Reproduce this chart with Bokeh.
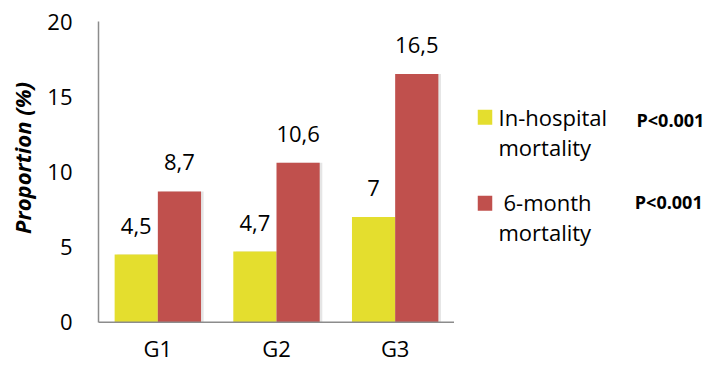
from bokeh.plotting import figure
from bokeh.models import FactorRange, Range1d, ColumnDataSource, Span
from bokeh.layouts import row
from bokeh.transform import dodge
from bokeh.embed import file_html
from bokeh.resources import INLINE
from bokeh.core.properties import value
import math

# ---- data ----
groups = ["G1", "G2", "G3"]
in_hospital = [4.5, 4.7, 7.0]
six_month = [8.7, 10.6, 16.5]
in_hospital_labels = ["4,5", "4,7", "7"]
six_month_labels = ["8,7", "10,6", "16,5"]
series_names = [["In-hospital", "mortality"], ["6-month", "mortality"]]
p_values = ["P<0.001", "P<0.001"]
y_ticks = [0, 5, 10, 15, 20]
y_title = "Proportion (%)"

YELLOW = "#E4DE2E"
RED = "#C0504D"
FONT = "Open Sans"
TOP = 21  # common top border so that all frames line up


def side_panel(width):
    f = figure(x_range=Range1d(0, width), y_range=Range1d(365, TOP), width=width, height=365,
               output_backend="svg", toolbar_location=None,
               min_border_left=0, min_border_right=0, min_border_top=TOP, min_border_bottom=0,
               x_axis_type=None, y_axis_type=None)
    f.xgrid.visible = False
    f.ygrid.visible = False
    f.outline_line_color = None
    return f


src = ColumnDataSource(dict(g=groups, a=in_hospital, b=six_month,
                            al=in_hospital_labels, bl=six_month_labels,
                            zero=[0] * len(groups)))

# ---- y-axis title panel ----
T = side_panel(40)
T.text(x=[21.5], y=[157.5], text=[y_title], angle=math.pi / 2,
       text_font=value(FONT), text_font_size="22px", text_font_style="bold italic",
       text_align="center", text_baseline="alphabetic", text_color="#000000")

# ---- main chart ----
p = figure(x_range=FactorRange(factors=groups, range_padding=0),
           y_range=Range1d(-2.88, 20),
           width=414, height=365, output_backend="svg", toolbar_location=None,
           min_border_left=58, min_border_right=0, min_border_top=TOP, min_border_bottom=0)

W = 0.364
OFF = 0.182
sh = 0.022
# soft shadows
p.vbar(x=dodge("g", -OFF + sh, range=p.x_range), top="a", width=W, source=src,
       fill_color="#000000", fill_alpha=0.10, line_color=None)
p.vbar(x=dodge("g", OFF + sh, range=p.x_range), top="b", width=W, source=src,
       fill_color="#000000", fill_alpha=0.10, line_color=None)
p.vbar(x=dodge("g", -OFF, range=p.x_range), top="a", width=W, source=src,
       fill_color=YELLOW, line_color=None)
p.vbar(x=dodge("g", OFF, range=p.x_range), top="b", width=W, source=src,
       fill_color=RED, line_color=None)

p.text(x=dodge("g", -OFF, range=p.x_range), y="a", text="al", source=src,
       text_font=value(FONT), text_font_size="22px", text_align="center",
       text_baseline="alphabetic", y_offset=-29, text_color="#000000")
p.text(x=dodge("g", OFF, range=p.x_range), y="b", text="bl", source=src,
       text_font=value(FONT), text_font_size="22px", text_align="center",
       text_baseline="alphabetic", y_offset=-29, text_color="#000000")

# category labels under the baseline
p.text(x="g", y="zero", text="g", source=src,
       text_font=value(FONT), text_font_size="22px", text_align="center",
       text_baseline="alphabetic", y_offset=26, text_color="#000000")

# baseline (x axis line)
p.add_layout(Span(location=0, dimension="width", line_color="#8C8C8C", line_width=1.5))

p.xgrid.visible = False
p.ygrid.visible = False
p.xaxis.visible = False
p.outline_line_color = None
p.background_fill_color = "white"
p.border_fill_color = "white"

ya = p.yaxis[0]
ya.ticker = y_ticks
ya.bounds = (0, 20)
ya.major_tick_line_color = None
ya.minor_tick_line_color = None
ya.major_tick_out = 0
ya.major_tick_in = 0
ya.axis_line_color = "#8C8C8C"
ya.axis_line_width = 1.5
ya.major_label_text_font = FONT
ya.major_label_text_font_size = "22px"
ya.major_label_text_color = "#000000"
ya.major_label_standoff = 26

# ---- legend panel ----
L = side_panel(256)
sq_y = [116.8, 202.8]
line1_x = [44, 49]
line1_y = [116, 201]
line2_y = [146, 231]
p_y = [119, 201]
L.rect(x=[30.5, 30.5], y=sq_y, width=14.5, height=15, fill_color=[YELLOW, RED], line_color=None)
L.text(x=line1_x, y=line1_y, text=[n[0] for n in series_names],
       text_font=value(FONT), text_font_size="22px", text_baseline="alphabetic",
       text_color="#000000")
L.text(x=[44, 44], y=line2_y, text=[n[1] for n in series_names],
       text_font=value(FONT), text_font_size="22px", text_baseline="alphabetic",
       text_color="#000000")
L.text(x=[182, 180.3], y=p_y, text=p_values,
       text_font=value(FONT), text_font_size="18px", text_font_style="bold",
       text_baseline="alphabetic", text_color="#000000")

layout = row(T, p, L)
open("out.html", "w").write(file_html(layout, INLINE))
